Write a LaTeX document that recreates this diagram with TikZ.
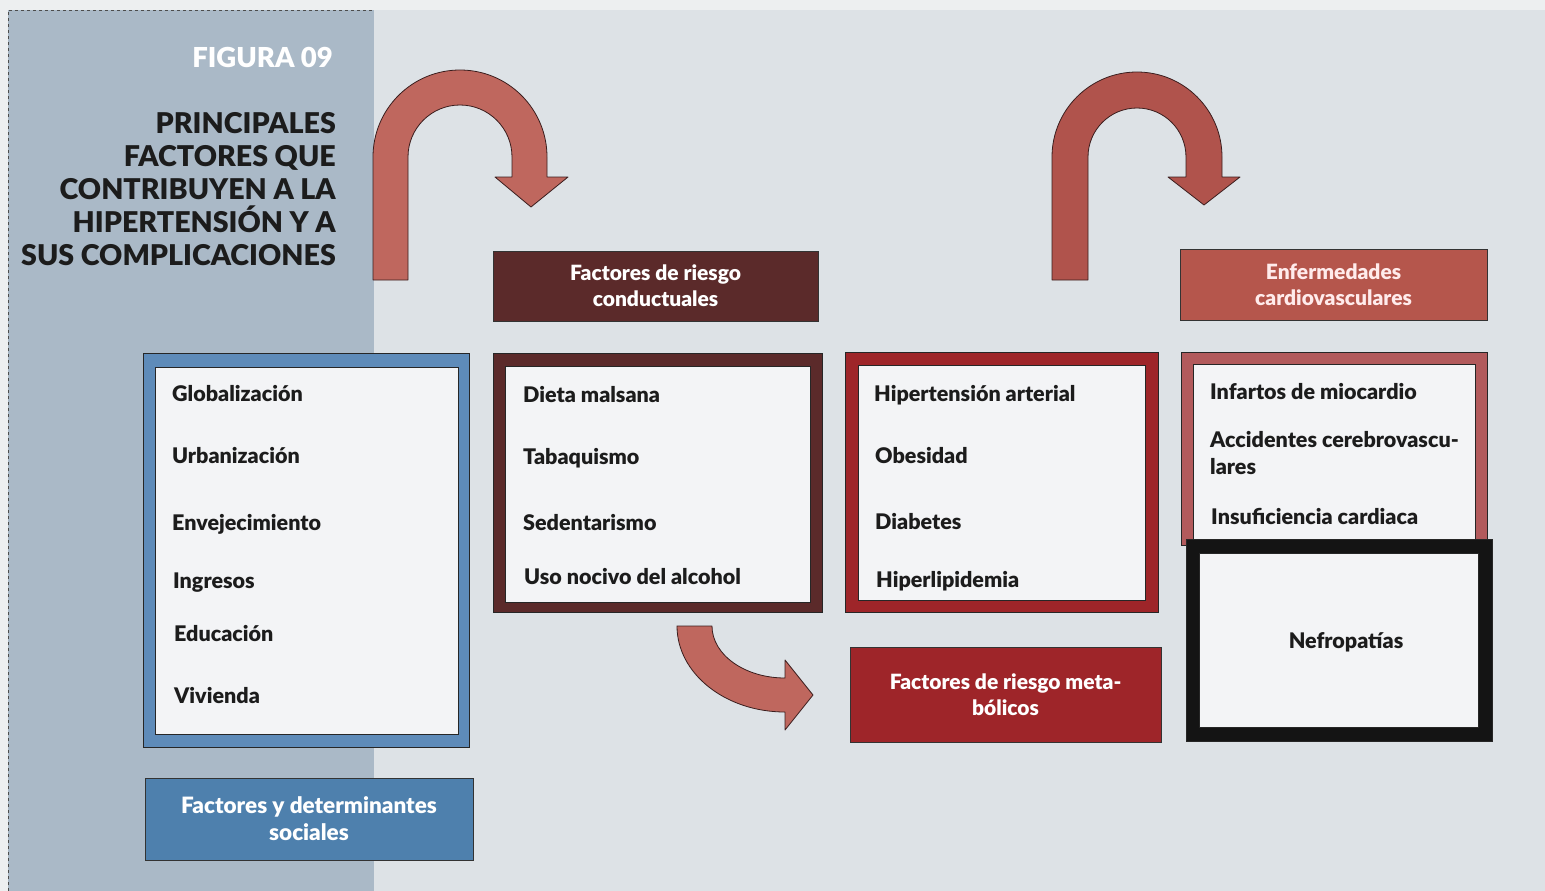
\documentclass[tikz,border=0pt]{standalone}
\usepackage{fontspec}
\setmainfont{Lato}
\newfontfamily\latoheavy{Lato Black}
\definecolor{paper}{HTML}{EDEFF0}
\definecolor{bgcol}{HTML}{DDE2E6}
\definecolor{panelcol}{HTML}{AAB9C7}
\definecolor{inkcol}{HTML}{1C1C1C}
\definecolor{boxwhite}{HTML}{F3F4F6}
\definecolor{socblue}{HTML}{4E80AD}
\definecolor{socframe}{HTML}{5E8BB9}
\definecolor{condbrown}{HTML}{5B2A2A}
\definecolor{metared}{HTML}{9E2529}
\definecolor{cardiored}{HTML}{B5564C}
\definecolor{cardioframe}{HTML}{B25A5C}
\definecolor{arrowA}{HTML}{BF675E}
\definecolor{arrowB}{HTML}{B0534C}
\definecolor{arrowline}{HTML}{3A1E1E}
\begin{document}
\begin{tikzpicture}[x=1pt,y=-1pt,
  item/.style={anchor=base west,inner sep=0pt,text=inkcol,
    font=\fontsize{21.5}{24}\selectfont\latoheavy},
  header/.style={fill=#1,draw=black!80,line width=0.8pt,inner sep=0pt,
    align=center,text=white,font=\fontsize{21}{26}\selectfont\latoheavy},
  frameout/.style={fill=#1,draw=black!85,line width=0.8pt,inner sep=0pt},
  framein/.style={fill=boxwhite,draw=black!85,line width=0.8pt,inner sep=0pt},
  bigarrow/.style={fill=#1,draw=arrowline,line width=0.8pt,line join=round}]

% page and background
\useasboundingbox (0,0) rectangle (1545,891);
\fill[paper] (0,0) rectangle (1545,891);
\fill[bgcol] (8,10) rectangle (1545,891);
\fill[panelcol] (8,10) rectangle (374,891);
\draw[black!70,dashed,line width=0.6pt] (8,891) -- (8,10) -- (374,10);

% title
\node[anchor=north east,inner sep=0pt,text=white,
  font=\fontsize{27.5}{30}\selectfont\latoheavy] (figno) at (333,47) {FIGURA 09};
\node[anchor=north east,inner sep=0pt,align=right,text=inkcol,
  font=\fontsize{28.6}{33}\selectfont\latoheavy] (title) at (336,112)
  {PRINCIPALES\\FACTORES QUE\\CONTRIBUYEN A LA\\HIPERTENSIÓN Y A\\SUS COMPLICACIONES};

% U-turn arrow towards behavioural factors
\path[bigarrow=arrowA] (373,280) -- (373,157)
  arc[start angle=180,end angle=360,radius=87] -- (547,177) -- (568,177)
  -- (531,207) -- (495,177) -- (512,177) -- (512,157)
  arc[start angle=360,end angle=180,radius=52] -- (408,280) -- cycle;

% U-turn arrow towards cardiovascular diseases
\path[bigarrow=arrowB] (1052,280) -- (1052,157)
  arc[start angle=180,end angle=360,radius=85] -- (1222,177) -- (1240,177)
  -- (1204,205) -- (1168,177) -- (1186,177) -- (1186,157)
  arc[start angle=360,end angle=180,radius=49] -- (1088,280) -- cycle;

% curved arrow towards metabolic factors
\path[bigarrow=arrowA] (677,626)
  arc[start angle=180,end angle=90,x radius=108,y radius=86]
  -- (785,730) -- (813,695) -- (785,660) -- (785,678)
  arc[start angle=90,end angle=180,x radius=73,y radius=52] -- cycle;

% headers
\node[header=condbrown,minimum width=325pt,minimum height=70pt] (hcond) at (655.5,286)
  {Factores de riesgo\\conductuales};
\node[header=cardiored,minimum width=307pt,minimum height=71pt,text=red!8] (hcardio) at (1333.5,284.5)
  {Enfermedades\\cardiovasculares};
\node[header=metared,minimum width=311pt,minimum height=95pt] (hmeta) at (1005.5,694.5)
  {Factores de riesgo meta-\\bólicos};
\node[header=socblue,minimum width=328pt,minimum height=82pt,
  font=\fontsize{22.5}{27}\selectfont\latoheavy] (hsoc) at (309,819)
  {Factores y determinantes\\sociales};

% social determinants box
\node[frameout=socframe,minimum width=326pt,minimum height=394pt] (socout) at (306,550) {};
\node[framein,minimum width=303pt,minimum height=367pt] (socin) at (306.5,550.5) {};
\node[item] (s1) at (172,401) {Globalización};
\node[item] (s2) at (172,463) {Urbanización};
\node[item] (s3) at (172,530) {Envejecimiento};
\node[item] (s4) at (173,588) {Ingresos};
\node[item] (s5) at (174,641) {Educación};
\node[item] (s6) at (174,703) {Vivienda};

% behavioural risk factors box
\node[frameout=condbrown,minimum width=329pt,minimum height=259pt] (condout) at (657.5,482.5) {};
\node[framein,minimum width=305pt,minimum height=236pt] (condin) at (657.5,484) {};
\node[item] (c1) at (523,402) {Dieta malsana};
\node[item] (c2) at (523,464) {Tabaquismo};
\node[item] (c3) at (523,530) {Sedentarismo};
\node[item] (c4) at (524,584) {Uso nocivo del alcohol};

% metabolic risk factors box
\node[frameout=metared,minimum width=313pt,minimum height=260pt] (metaout) at (1001.5,482) {};
\node[framein,minimum width=287pt,minimum height=235pt] (metain) at (1001.5,482.5) {};
\node[item] (m1) at (874,401) {Hipertensión arterial};
\node[item] (m2) at (875,463) {Obesidad};
\node[item] (m3) at (875,529) {Diabetes};
\node[item] (m4) at (876,587) {Hiperlipidemia};

% cardiovascular diseases box
\node[frameout=cardioframe,minimum width=306pt,minimum height=193pt] (cardout) at (1334,448.5) {};
\node[framein,minimum width=282pt,minimum height=181pt] (cardin) at (1334,454.5) {};
\node[item] (d1) at (1210,399) {Infartos de miocardio};
\node[item] (d2) at (1210,447) {Accidentes cerebrovascu-};
\node[item] (d3) at (1210,474) {lares};
\node[item] (d4) at (1211,524) {Insuficiencia cardiaca};

% kidney disease box
\node[frameout=black!92,minimum width=306pt,minimum height=202pt] (nefout) at (1339,640) {};
\node[framein,minimum width=279pt,minimum height=174pt] (nefin) at (1338.5,640) {};
\node[inner sep=0pt,text=inkcol,font=\fontsize{21.5}{24}\selectfont\latoheavy] (nef) at (1346,642) {Nefropatías};

\end{tikzpicture}
\end{document}
